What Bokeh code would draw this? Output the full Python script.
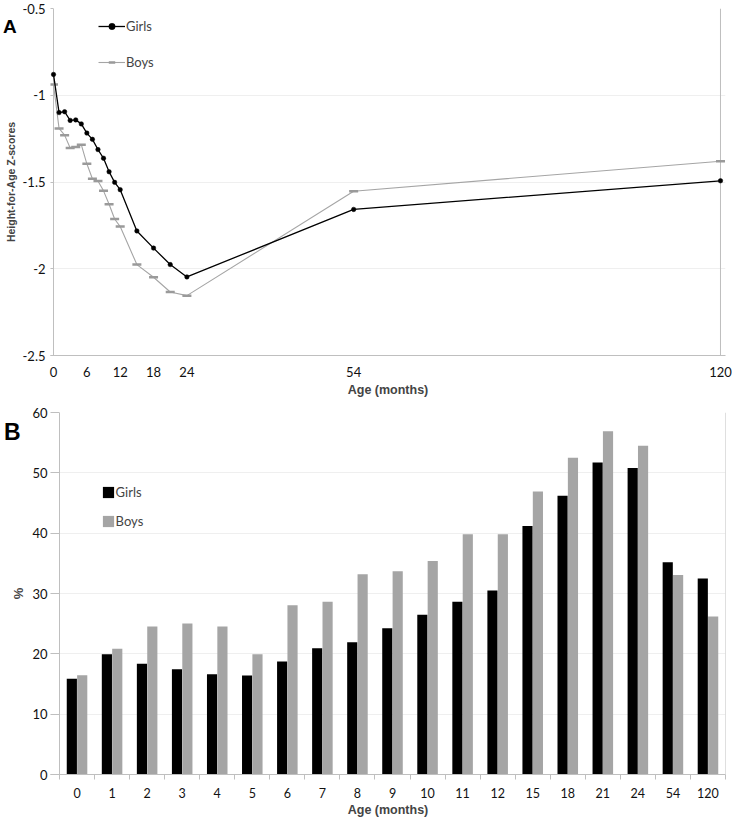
import numpy as np
from bokeh.plotting import figure
from bokeh.layouts import column
from bokeh.models import (ColumnDataSource, Range1d, FixedTicker, Span,
                          Legend, LegendItem, Div)
from bokeh.embed import file_html
from bokeh.resources import INLINE

# ---------------- Panel A data ----------------
ages_months = [0, 1, 2, 3, 4, 5, 6, 7, 8, 9, 10, 11, 12, 15, 18, 21, 24, 54, 120]
haz_girls = [-0.88, -1.10, -1.095, -1.145, -1.142, -1.165, -1.218, -1.254, -1.313,
             -1.363, -1.441, -1.502, -1.544, -1.782, -1.881, -1.976, -2.047,
             -1.658, -1.493]
haz_boys = [-0.938, -1.191, -1.23, -1.304, -1.298, -1.285, -1.395, -1.481, -1.494,
            -1.551, -1.628, -1.713, -1.757, -1.976, -2.049, -2.134, -2.155,
            -1.553, -1.38]
xticks_a = [0, 6, 12, 18, 24, 54, 120]
yticks_a = [-2.5, -2.0, -1.5, -1.0, -0.5]
ytick_labels_a = ["-2.5", "-2", "-1.5", "-1", "-0.5"]

# ---------------- Panel B data ----------------
age_cats = ["0", "1", "2", "3", "4", "5", "6", "7", "8", "9", "10", "11", "12",
            "15", "18", "21", "24", "54", "120"]
stunt_girls = [15.85, 19.93, 18.34, 17.44, 16.61, 16.4, 18.72, 20.93, 21.93, 24.25,
               26.48, 28.64, 30.5, 41.2, 46.2, 51.7, 50.8, 35.2, 32.5]
stunt_boys = [16.45, 20.83, 24.53, 25.03, 24.53, 19.93, 28.07, 28.64, 33.2, 33.7,
              35.4, 39.8, 39.8, 46.9, 52.5, 56.9, 54.5, 33.06, 26.2]
yticks_b = [0, 10, 20, 30, 40, 50, 60]

GIRL_C = "#000000"
BOY_C = "#a5a5a5"
AXIS_C = "#bfbfbf"
GRID_C = "#efefef"
TICK_FONT = "Lato"
TITLE_FONT = "Liberation Sans"

# ================= Panel A =================
p1 = figure(width=732, height=403, x_range=Range1d(-0.54, 120.9), y_range=Range1d(-2.5, -0.5),
            output_backend="svg", toolbar_location=None,
            min_border_left=50, min_border_right=7, min_border_top=8, min_border_bottom=48)
p1.outline_line_color = None
p1.background_fill_color = "white"
p1.border_fill_color = "white"

src_a = ColumnDataSource(dict(age=ages_months, girls=haz_girls, boys=haz_boys))

p1.add_layout(Span(location=0, dimension="height", line_color=AXIS_C, line_width=1, level="underlay"))
p1.add_layout(Span(location=120, dimension="height", line_color=AXIS_C, line_width=1, level="underlay"))

rb_line = p1.line("age", "boys", source=src_a, line_color=BOY_C, line_width=1.1)
rb_mark = p1.scatter("age", "boys", source=src_a, marker="dash", size=9,
                     line_color="#9a9a9a", line_width=2.5)
rg_line = p1.line("age", "girls", source=src_a, line_color=GIRL_C, line_width=1.3)
rg_mark = p1.scatter("age", "girls", source=src_a, marker="circle", size=4.5,
                     fill_color=GIRL_C, line_color=GIRL_C, line_width=0.5)

leg_a = Legend(items=[LegendItem(label="Girls", renderers=[rg_line, rg_mark]),
                      LegendItem(label="Boys", renderers=[rb_line, rb_mark])],
               location=(48, 285), orientation="vertical",
               glyph_width=27, glyph_height=16, label_height=16, spacing=20,
               padding=0, margin=0, label_standoff=1,
               label_text_font=TICK_FONT, label_text_font_size="13px",
               border_line_alpha=0, background_fill_alpha=0)
p1.add_layout(leg_a)

p1.xgrid.visible = False
p1.ygrid.ticker = FixedTicker(ticks=[-2.0, -1.5, -1.0])
p1.ygrid.grid_line_color = GRID_C

xa = p1.xaxis[0]
xa.ticker = FixedTicker(ticks=xticks_a)
xa.axis_line_color = AXIS_C
xa.major_tick_out = 0
xa.major_tick_in = 0
xa.minor_tick_line_color = None
xa.major_label_text_font = TICK_FONT
xa.major_label_text_font_size = "13px"
xa.major_label_text_color = "#111111"
xa.major_label_standoff = 11
xa.axis_label = "Age (months)"
xa.axis_label_text_font = TITLE_FONT
xa.axis_label_text_font_style = "bold"
xa.axis_label_text_font_size = "12.5px"
xa.axis_label_standoff = 3

ya = p1.yaxis[0]
ya.ticker = FixedTicker(ticks=yticks_a)
ya.major_label_overrides = {t: s for t, s in zip(yticks_a, ytick_labels_a)}
ya.axis_line_color = None
ya.major_tick_in = 3
ya.major_tick_out = 0
ya.major_tick_line_color = AXIS_C
ya.minor_tick_line_color = None
ya.major_label_text_font = TICK_FONT
ya.major_label_text_font_size = "13px"
ya.major_label_text_color = "#111111"
ya.major_label_standoff = 5
ya.axis_label = "Height-for-Age Z-scores"
ya.axis_label_text_font = TITLE_FONT
ya.axis_label_text_font_style = "bold"
ya.axis_label_text_font_size = "10.5px"
ya.axis_label_standoff = 3

# ================= Panel B =================
n = len(age_cats)
centers = np.arange(n) + 0.5
boundaries = list(np.arange(n + 1).astype(float))

p2 = figure(width=732, height=419, x_range=Range1d(-0.2568, n), y_range=Range1d(0, 60),
            output_backend="svg", toolbar_location=None,
            min_border_left=50, min_border_right=7, min_border_top=9, min_border_bottom=48)
p2.outline_line_color = None
p2.background_fill_color = "white"
p2.border_fill_color = "white"

src_b = ColumnDataSource(dict(xg=centers - 0.148, xb=centers + 0.148,
                              girls=stunt_girls, boys=stunt_boys))
rg_bar = p2.vbar(x="xg", top="girls", width=0.29, source=src_b,
                 fill_color=GIRL_C, line_color=None)
rb_bar = p2.vbar(x="xb", top="boys", width=0.29, source=src_b,
                 fill_color=BOY_C, line_color=None)

p2.add_layout(Span(location=0, dimension="height", line_color=AXIS_C, line_width=1))
p2.add_layout(Span(location=n, dimension="height", line_color=AXIS_C, line_width=1))

leg_b = Legend(items=[LegendItem(label="Girls", renderers=[rg_bar]),
                      LegendItem(label="Boys", renderers=[rb_bar])],
               location=(50.6, 245), orientation="vertical",
               glyph_width=14, glyph_height=14, label_height=14, spacing=13,
               padding=0, margin=0, label_standoff=1,
               label_text_font=TICK_FONT, label_text_font_size="13px",
               border_line_alpha=0, background_fill_alpha=0)
p2.add_layout(leg_b)

p2.xgrid.visible = False
p2.ygrid.ticker = FixedTicker(ticks=[10, 20, 30, 40, 50])
p2.ygrid.grid_line_color = GRID_C

xb = p2.xaxis[0]
xb.ticker = FixedTicker(ticks=list(centers), minor_ticks=boundaries)
xb.major_label_overrides = {float(c): s for c, s in zip(centers, age_cats)}
xb.axis_line_color = AXIS_C
xb.major_tick_out = 0
xb.major_tick_in = 0
xb.minor_tick_out = 5
xb.minor_tick_in = 0
xb.minor_tick_line_color = AXIS_C
xb.major_label_text_font = TICK_FONT
xb.major_label_text_font_size = "12.5px"
xb.major_label_text_color = "#111111"
xb.major_label_standoff = 8
xb.axis_label = "Age (months)"
xb.axis_label_text_font = TITLE_FONT
xb.axis_label_text_font_style = "bold"
xb.axis_label_text_font_size = "12.5px"
xb.axis_label_standoff = 2

yb = p2.yaxis[0]
yb.ticker = FixedTicker(ticks=yticks_b)
yb.axis_line_color = None
yb.major_tick_out = 0
yb.major_tick_in = 9
yb.major_tick_line_color = AXIS_C
yb.minor_tick_line_color = None
yb.major_label_text_font = TICK_FONT
yb.major_label_text_font_size = "13px"
yb.major_label_text_color = "#111111"
yb.major_label_standoff = 3
yb.axis_label = "%"
yb.axis_label_text_font = TITLE_FONT
yb.axis_label_text_font_style = "bold"
yb.axis_label_text_font_size = "13px"
yb.axis_label_standoff = 3

label_a = Div(text="A", width=20, height=22,
              styles={"position": "absolute", "left": "-2px", "top": "12px",
                      "font-family": "Liberation Sans", "font-weight": "bold",
                      "font-size": "19px", "line-height": "19px", "color": "black",
                      "z-index": "10"})
label_b = Div(text="B", width=20, height=26,
              styles={"position": "absolute", "left": "-1px", "top": "416px",
                      "font-family": "Liberation Sans", "font-weight": "bold",
                      "font-size": "23px", "line-height": "23px", "color": "black",
                      "z-index": "10"})

layout = column(p1, p2, label_a, label_b, spacing=0)

open("out.html", "w").write(file_html(layout, INLINE))
